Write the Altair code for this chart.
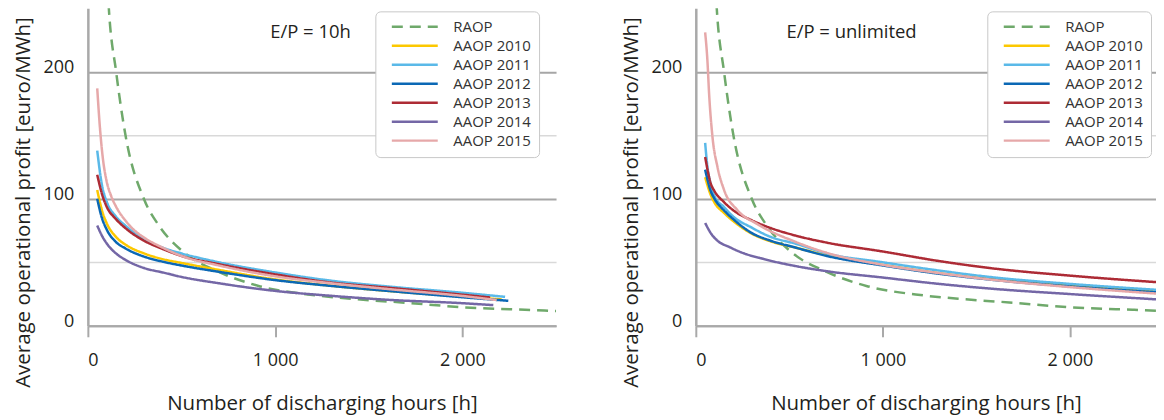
import altair as alt
import pandas as pd

FONT = "Open Sans"
SERIES = ["RAOP", "AAOP 2010", "AAOP 2011", "AAOP 2012", "AAOP 2013", "AAOP 2014", "AAOP 2015"]
COLORS = ["#6fa96b", "#fcc800", "#5ab9e8", "#0b68b5", "#ad2b35", "#7467a6", "#e6a8a9"]
DASHES = [[11, 7], [1, 0], [1, 0], [1, 0], [1, 0], [1, 0], [1, 0]]
PANEL_TITLES = ["E/P = 10h", "E/P = unlimited"]
X_TICKS = [0, 1000, 2000]
Y_TICKS = [0, 50, 100, 150, 200]

# RAOP (same in both panels)
raop_x = [100, 112, 151, 201, 299, 379, 503, 699, 912, 1214, 1428, 1676, 2014, 2334, 2500]
raop_y = [282, 250, 200, 150, 100, 79, 59, 42.5, 31.4, 24, 21, 18.4, 14.5, 12.6, 11.7]

# ---- E/P = 10h ----
p10_2010_x = [50, 75, 100, 150, 200, 300, 400, 500, 700, 1000, 1300, 1600, 2000, 2210]
p10_2010_y = [107, 91, 81, 70, 64, 57, 52.5, 49.5, 44, 36.5, 31.5, 27.5, 23, 20.8]
p10_2011_x = [50, 75, 100, 150, 200, 300, 400, 500, 700, 1000, 1300, 1600, 2000, 2228]
p10_2011_y = [138, 111, 98, 86, 79, 68, 61.5, 57, 50, 42, 35.5, 31, 26, 22.8]
p10_2012_x = [50, 75, 100, 150, 200, 300, 400, 500, 700, 1000, 1300, 1600, 2000, 2245]
p10_2012_y = [100, 85, 76, 66, 61, 54.5, 50.5, 47.5, 42.5, 36, 31.4, 27.5, 22.5, 19.7]
p10_2013_x = [50, 75, 100, 150, 200, 300, 400, 500, 700, 1000, 1300, 1600, 2000, 2148]
p10_2013_y = [119, 104, 94, 84, 77, 67, 60.5, 55, 48.5, 40.5, 34, 30, 24.5, 22.3]
p10_2014_x = [50, 75, 100, 150, 200, 300, 400, 500, 700, 1000, 1300, 1600, 2000, 2165]
p10_2014_y = [79, 71, 65, 57, 52, 45.5, 42, 38.5, 33.5, 27.5, 23.6, 20.5, 17.8, 16.3]
p10_2015_x = [50, 65, 80, 100, 125, 150, 200, 250, 300, 400, 500, 700, 1000, 1300, 1600, 2000, 2183]
p10_2015_y = [187, 155, 132, 114, 102, 94, 83, 75, 69.5, 61.5, 55, 47.5, 39, 33.5, 29, 23.5, 20.3]

# ---- E/P = unlimited ----
pu_2010_x = [50, 80, 100, 150, 200, 300, 400, 535, 700, 1000, 1300, 1600, 2000, 2500]
pu_2010_y = [117, 103, 97, 89, 82.5, 72.5, 66.5, 61.5, 55.5, 48, 41.5, 36.5, 31.5, 27]
pu_2011_x = [50, 60, 80, 100, 151, 200, 294, 400, 535, 700, 1000, 1300, 1600, 2000, 2500]
pu_2011_y = [144, 128, 111, 102, 93.5, 86, 77.7, 70, 64.6, 57, 50, 43.5, 38, 33, 28]
pu_2012_x = [50, 80, 100, 150, 200, 300, 400, 535, 700, 1000, 1300, 1600, 2000, 2500]
pu_2012_y = [123, 106, 100, 91, 84, 73, 67, 61.5, 55, 47.5, 41, 36, 31, 26]
pu_2013_x = [50, 80, 100, 150, 200, 300, 400, 535, 700, 1000, 1300, 1600, 2000, 2500]
pu_2013_y = [133, 112, 106, 97.5, 91, 83, 77, 71, 65.5, 58.5, 51, 45, 39.5, 34]
pu_2014_x = [50, 80, 116, 180, 240, 365, 535, 700, 1000, 1300, 1600, 2000, 2500]
pu_2014_y = [81, 73, 67, 62, 58, 52.5, 47, 43, 38, 33, 29, 25, 20.5]
pu_2015_x = [50, 62, 71, 89, 116, 151, 223, 330, 535, 700, 1000, 1300, 1600, 2000, 2500]
pu_2015_y = [231, 209, 183, 149, 125, 107, 91, 80, 66, 57.5, 48, 41.5, 36, 30.5, 25]


def frame(curves):
    rows = []
    for name, xs, ys in curves:
        for x, y in zip(xs, ys):
            rows.append({"series": name, "x": x, "y": y})
    return pd.DataFrame(rows)


left_df = frame([
    ("RAOP", raop_x, raop_y),
    ("AAOP 2010", p10_2010_x, p10_2010_y),
    ("AAOP 2011", p10_2011_x, p10_2011_y),
    ("AAOP 2012", p10_2012_x, p10_2012_y),
    ("AAOP 2013", p10_2013_x, p10_2013_y),
    ("AAOP 2014", p10_2014_x, p10_2014_y),
    ("AAOP 2015", p10_2015_x, p10_2015_y),
])
right_df = frame([
    ("RAOP", raop_x, raop_y),
    ("AAOP 2010", pu_2010_x, pu_2010_y),
    ("AAOP 2011", pu_2011_x, pu_2011_y),
    ("AAOP 2012", pu_2012_x, pu_2012_y),
    ("AAOP 2013", pu_2013_x, pu_2013_y),
    ("AAOP 2014", pu_2014_x, pu_2014_y),
    ("AAOP 2015", pu_2015_x, pu_2015_y),
])

AX_GRAY = "#a9a9a9"
TXT = "#231f20"


def panel(df, xmax, width, title_text, title_x, legend_x):
    legend = alt.Legend(
        orient="none", legendX=legend_x, legendY=3, title=None,
        symbolType="M-4.6,0H4.6", symbolSize=100, symbolStrokeWidth=2.5,
        labelFont=FONT, labelFontSize=15, labelColor="#333333",
        strokeColor="#c8c8c8", cornerRadius=5, padding=8, fillColor="white",
        rowPadding=3, labelOffset=31, symbolOffset=24,
    )
    xaxis = alt.Axis(
        values=X_TICKS, title="Number of discharging hours [h]",
        labelExpr="replace(format(datum.value, ','), ',', ' ')",
        grid=False, tickSize=11, tickColor=AX_GRAY, tickWidth=2,
        domainColor=AX_GRAY, domainWidth=2,
        labelFont=FONT, labelFontSize=18, labelColor=TXT, labelPadding=15,
        titleFont=FONT, titleFontSize=20.5, titleFontWeight="normal", titleColor=TXT,
        titlePadding=24,
    )
    yaxis = alt.Axis(
        values=Y_TICKS, title="Average operational profit [euro/MWh]",
        labelExpr="datum.value % 100 === 0 ? datum.label : ''",
        grid=True,
        gridColor={"condition": {"test": "datum.value % 100 === 0", "value": "#a6a6a6"}, "value": "#d9d9d9"},
        gridWidth={"condition": {"test": "datum.value % 100 === 0", "value": 2}, "value": 1.5},
        ticks=False, domainColor=AX_GRAY, domainWidth=2.5,
        labelFont=FONT, labelFontSize=18, labelColor=TXT, labelPadding=14, labelOffset=-4,
        titleFont=FONT, titleFontSize=20.5, titleFontWeight="normal", titleColor=TXT,
        titlePadding=10, titleY=194,
    )
    lines = alt.Chart(df).mark_line(clip=True, strokeWidth=2.5, interpolate="monotone").encode(
        x=alt.X("x:Q", scale=alt.Scale(domain=[0, xmax], nice=False), axis=xaxis),
        y=alt.Y("y:Q", scale=alt.Scale(domain=[0, 250], nice=False), axis=yaxis),
        color=alt.Color("series:N", sort=SERIES, scale=alt.Scale(domain=SERIES, range=COLORS), legend=legend),
        strokeDash=alt.StrokeDash("series:N", sort=SERIES, scale=alt.Scale(domain=SERIES, range=DASHES), legend=legend),
    )
    label = alt.Chart(pd.DataFrame({"t": [title_text]})).mark_text(
        font=FONT, fontSize=18.5, color=TXT, align="center", baseline="middle"
    ).encode(x=alt.value(title_x), y=alt.value(24), text="t:N")
    return alt.layer(lines, label).properties(width=width, height=318)


left = panel(left_df, 2500, 469, PANEL_TITLES[0], 223, 288)
right = panel(right_df, 2460, 461, PANEL_TITLES[1], 156, 292)

chart = alt.hconcat(left, right, spacing=65).resolve_legend(
    color="independent", strokeDash="independent"
).properties(
    padding={"left": 5, "top": 0, "right": 0, "bottom": 0}
).configure_view(stroke=None)

chart.save("out.html", embed_options={"renderer": "svg", "actions": False})
